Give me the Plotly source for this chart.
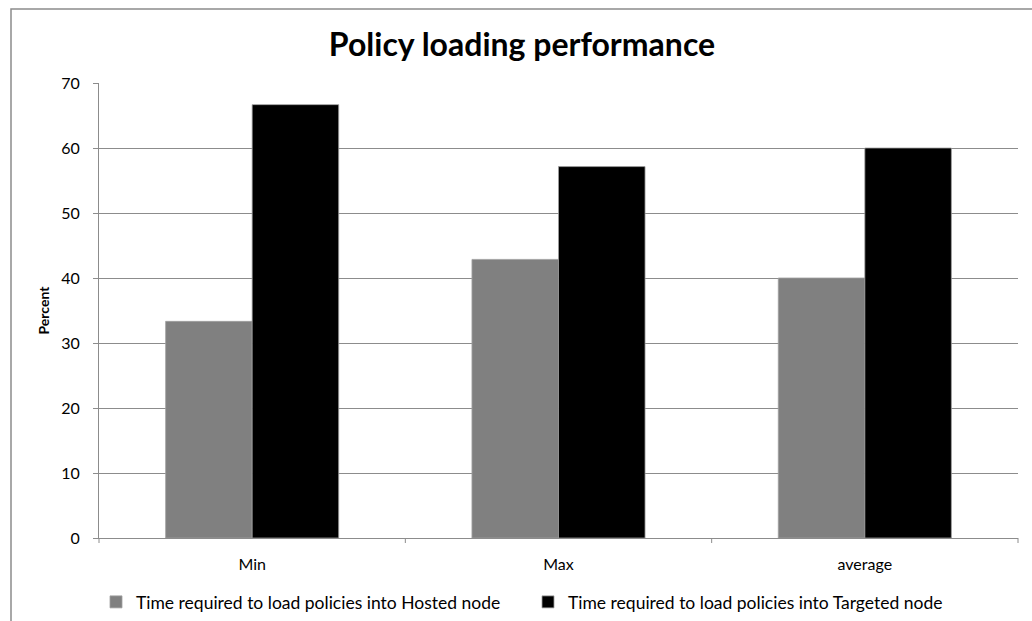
import plotly.graph_objects as go

categories = ["Min", "Max", "average"]
hosted = [33.33, 42.86, 40.0]
targeted = [66.67, 57.14, 60.0]
y_ticks = [0, 10, 20, 30, 40, 50, 60, 70]

W, H = 1032, 621
L, R, T, B = 99, 14, 83, 83
pw, ph = W - L - R, H - T - B

def px_x(px):
    return (px - L) / pw

def px_y(py):
    return (H - B - py) / ph

font_family = "Lato, 'Open Sans', sans-serif"
axis_grey = "#8c8c8c"

fig = go.Figure()
fig.add_trace(go.Bar(
    x=categories, y=hosted,
    name="Time required to load policies into Hosted node",
    marker=dict(color="#808080", line=dict(color="#a0a0a0", width=0.8)),
))
fig.add_trace(go.Bar(
    x=categories, y=targeted,
    name="Time required to load policies into Targeted node",
    marker=dict(color="#000000", line=dict(color="#a0a0a0", width=0.8)),
))

fig.update_layout(
    width=W, height=H,
    margin=dict(l=L, r=R, t=T, b=B, autoexpand=False),
    paper_bgcolor="white", plot_bgcolor="white",
    barmode="group", bargap=0.435, bargroupgap=0,
    font=dict(family=font_family, color="#000000", size=16),
    title=dict(
        text="<b>Policy loading performance</b>",
        x=px_x(522), xref="paper", xanchor="center",
        y=1 - 45 / H, yanchor="middle",
        font=dict(family=font_family, size=32, color="#000000"),
    ),
    xaxis=dict(
        showline=True, linecolor=axis_grey, linewidth=1,
        ticks="", showgrid=False,
        tickfont=dict(size=16),
        ticklabelstandoff=12,
    ),
    yaxis=dict(
        range=[0, 70], tickvals=y_ticks,
        showline=True, linecolor=axis_grey, linewidth=1,
        ticks="outside", ticklen=5, tickcolor=axis_grey,
        showgrid=True, gridcolor=axis_grey, gridwidth=1,
        zeroline=False,
        tickfont=dict(size=16),
        ticklabelstandoff=10,
        title=dict(text="<b>Percent</b>", font=dict(size=14), standoff=8),
    ),
    legend=dict(
        orientation="h", x=px_x(96), xanchor="left",
        y=px_y(602), yanchor="middle",
        font=dict(size=17.5), itemwidth=30,
        entrywidth=387, entrywidthmode="pixels",
        traceorder="normal",
    ),
    showlegend=True,
)

# category boundary ticks on the x axis
for i in range(len(categories) + 1):
    xv = i / len(categories)
    fig.add_shape(type="line", xref="paper", yref="paper",
                  x0=xv, x1=xv, y0=0, y1=px_y(543),
                  line=dict(color=axis_grey, width=1))

# chart frame
fig.add_shape(type="rect", xref="paper", yref="paper",
              x0=px_x(11), x1=px_x(1045), y0=px_y(9), y1=px_y(640),
              line=dict(color=axis_grey, width=1.5), fillcolor="rgba(0,0,0,0)",
              layer="below")

fig.write_html("out.html")
